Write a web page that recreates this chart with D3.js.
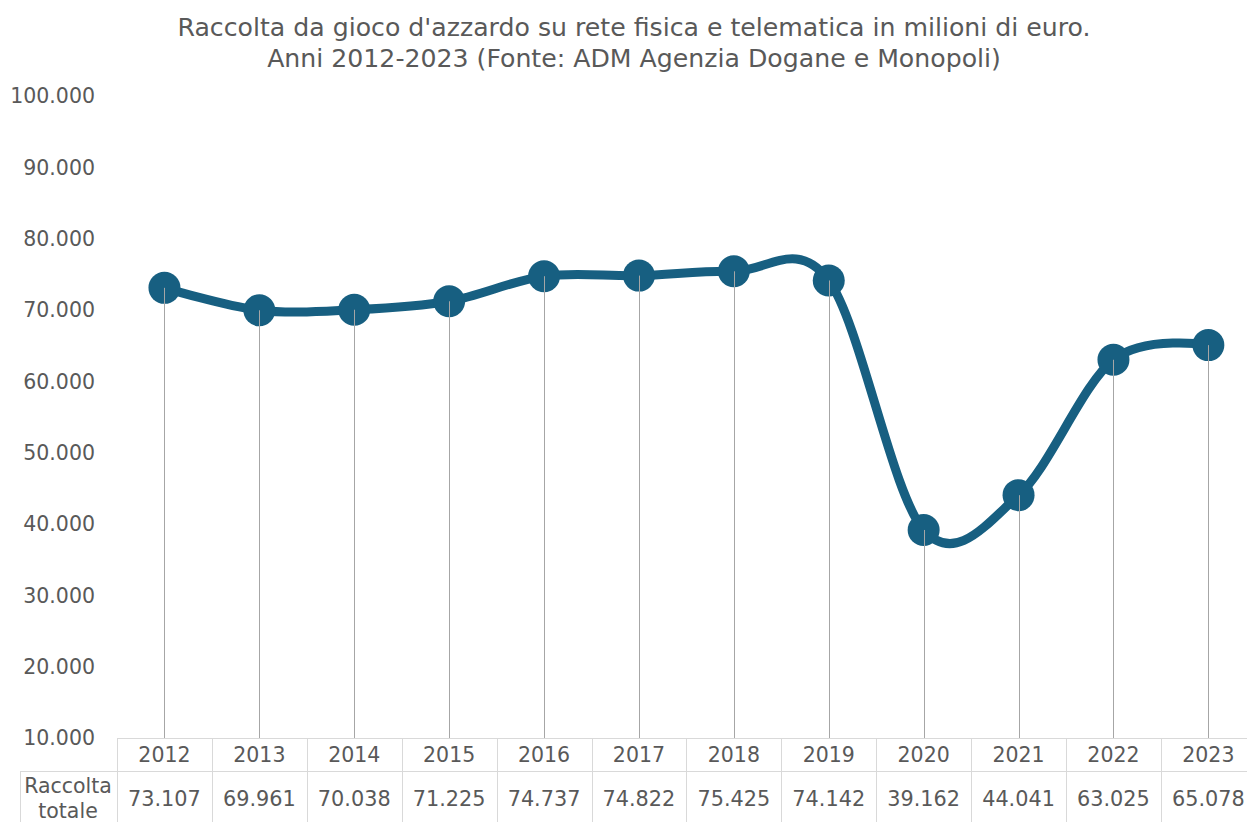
<!DOCTYPE html>
<html><head><meta charset="utf-8">
<script src="https://cdn.jsdelivr.net/npm/d3@7"></script>
<style>body{margin:0;background:#fff}svg{display:block}text{font-family:"DejaVu Sans",Verdana,sans-serif;fill:#595959}</style>
</head><body><svg id="c" width="1247" height="822"></svg>
<script>
const years = ["2012","2013","2014","2015","2016","2017","2018","2019","2020","2021","2022","2023"];
const values = [73107,69961,70038,71225,74737,74822,75425,74142,39162,44041,63025,65078];
const valueLabels = ["73.107","69.961","70.038","71.225","74.737","74.822","75.425","74.142","39.162","44.041","63.025","65.078"];
const yTicks = [10000,20000,30000,40000,50000,60000,70000,80000,90000,100000];
const titleLines = ["Raccolta da gioco d'azzardo su rete fisica e telematica in milioni di euro.","Anni 2012-2023 (Fonte: ADM Agenzia Dogane e Monopoli)"];
const seriesName = ["Raccolta","totale"];

const svg = d3.select("#c");
const fmt = v => d3.format(",")(v).replace(/,/g,".");
const x = d3.scaleBand().domain(years).range([117, 117+12*94.9]);
const y = d3.scaleLinear().domain([10000,100000]).range([738,96]);
const cx = d => x(d) + x.bandwidth()/2;

svg.append("g").selectAll("text").data(titleLines).join("text")
  .attr("x",634).attr("y",(d,i)=>36+i*30.5).attr("text-anchor","middle")
  .style("font-size","25.2px").text(d=>d);

svg.append("g").selectAll("text").data(yTicks).join("text")
  .attr("x",95).attr("y",d=>y(d)).attr("dy","0.35em").attr("text-anchor","end")
  .style("font-size","20.5px").text(d=>fmt(d));

// table
const tg = svg.append("g").attr("stroke","#d9d9d9").attr("stroke-width",1);
const right = 117+12*94.9;
tg.append("line").attr("x1",117).attr("x2",right).attr("y1",738.5).attr("y2",738.5);
tg.append("line").attr("x1",20).attr("x2",right).attr("y1",771.5).attr("y2",771.5);
tg.append("line").attr("x1",20.5).attr("x2",20.5).attr("y1",771).attr("y2",822);
tg.selectAll("line.v").data(years).join("line").attr("class","v")
  .attr("x1",d=>Math.round(x(d))+0.5).attr("x2",d=>Math.round(x(d))+0.5).attr("y1",738).attr("y2",822);

svg.append("g").selectAll("text").data(years).join("text")
  .attr("x",d=>cx(d)).attr("y",762).attr("text-anchor","middle").style("font-size","20.5px").text(d=>d);
svg.append("g").selectAll("text").data(valueLabels).join("text")
  .attr("x",(d,i)=>cx(years[i])).attr("y",806).attr("text-anchor","middle").style("font-size","20.8px").text(d=>d);
svg.append("g").selectAll("text").data(seriesName).join("text")
  .attr("x",68).attr("y",(d,i)=>793+i*25).attr("text-anchor","middle").style("font-size","20.5px").text(d=>d);

// line
const pts = years.map((d,i)=>[cx(d), y(values[i])]);
svg.append("path").datum(pts).attr("fill","none").attr("stroke","#175f81").attr("stroke-width",9)
  .attr("stroke-linecap","round").attr("stroke-linejoin","round")
  .attr("d", d3.line().curve(d3.curveCardinal.tension(0)));
svg.append("g").selectAll("circle").data(pts).join("circle")
  .attr("cx",d=>d[0]).attr("cy",d=>d[1]).attr("r",16).attr("fill","#175f81");
// drop lines (on top)
svg.append("g").selectAll("line").data(pts).join("line")
  .attr("x1",d=>Math.round(d[0])+0.5).attr("x2",d=>Math.round(d[0])+0.5)
  .attr("y1",d=>d[1]).attr("y2",738).attr("stroke","#a6a6a6").attr("stroke-width",1);
</script></body></html>
